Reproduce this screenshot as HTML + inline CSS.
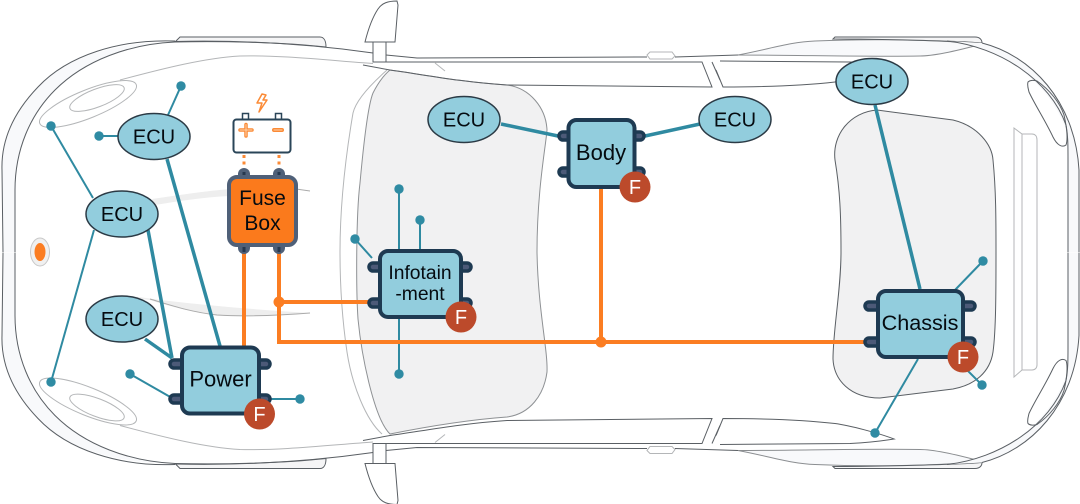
<!DOCTYPE html>
<html>
<head>
<meta charset="utf-8">
<style>
html,body{margin:0;padding:0;background:#fff;}
svg{display:block;}
text{font-family:"Liberation Sans",sans-serif;fill:#050b10;text-anchor:middle;}
.c{fill:none;stroke:#5a5f64;stroke-width:1;}
.l{fill:none;stroke:#b4b6b8;stroke-width:1;}
.t1{stroke:#2f8aa1;stroke-width:2;fill:none;}
.t2{stroke:#2f8aa1;stroke-width:3.5;fill:none;}
.o{stroke:#fb7d22;stroke-width:4;fill:none;}
.e{fill:#92cddd;stroke:#2b3a45;stroke-width:1.5;}
.d{fill:#2f8ba3;}
.m{fill:#92cddd;stroke:#1e3a52;stroke-width:4;}
.tab{fill:#4c5a78;stroke:#1e3a52;stroke-width:3.5;}
.f{fill:#bc4a2b;}
.ft{fill:#fff;font-size:20px;}
</style>
</head>
<body>
<svg width="1080" height="504" viewBox="0 0 1080 504" xmlns="http://www.w3.org/2000/svg">
<defs>
<g id="h">
  <path d="M175 42 C120 42 70 55 40 85 C15 112 1 140 2 170 L3 252.5 L15 252.5 L15 190 C15 150 30 115 55 90 C85 60 130 42 175 42Z" fill="#f8f9fb" stroke="none"/>
  <path class="c" d="M175 41 C120 39 68 55 38 87 C14 112 1 140 2 170 L3 252.5"/>
  <path class="c" d="M175 42 C130 44 85 60 55 90 C30 115 15 150 15 190 L15 252.5"/>
  <path d="M175 42 L180 37 H320 C324 37 326 41 326 47 C280 42 220 41 175 42Z" fill="#f5f5f6" stroke="#5a5f64" stroke-width="1"/>
  <path class="c" d="M175 41.500 C240 40 310 44 373 53"/>
  <path class="l" d="M120 80 C165 68 205 58 240 56 C280 55 325 60 373 63.500"/>
  <ellipse class="l" cx="88" cy="104" rx="52" ry="14" transform="rotate(-22 88 104)"/>
  <ellipse class="l" cx="97" cy="98" rx="29" ry="9" transform="rotate(-21 97 98)"/>
  <path class="c" d="M386 62 L702 62 L712 87 L507 85 C460 82 420 74 390 70 L363 65"/>
  <path class="c" d="M386 55 L417 58 L647 57 M675 57 L738 55"/>
  <path class="l" d="M647 55 L650 52 H672 L675 56 L672 59 H650Z"/>
  <path class="l" d="M435 63 L445 71"/>
  <path class="c" d="M712 62 L720 80"/>
  <path class="c" d="M720 61 L850 62 C870 63 885 65 894 66.500 C880 72 850 80 835 82 C800 86 760 87 723 87 L716 70"/>
  <path d="M738 55 C770 49 790 42 815 41 C860 39 930 39 982 44 C960 50 935 56 920 56 C860 57 800 55 738 55Z" fill="#f8f9fb" stroke="#8b8e91" stroke-width="1"/>
  <path d="M833 39 L835 37 H975 C980 37 982 40 982 43 C960 41 880 39 833 39Z" fill="#f5f5f6" stroke="#5a5f64" stroke-width="1"/>
  <path d="M947 41 C1000 47 1050 80 1068 135 L1068 252.500 L1079 252.500 L1079 170 C1075 100 1030 55 982 43Z" fill="#f8f9fb" stroke="none"/>
  <path class="c" d="M982 43 C1030 55 1075 100 1079 170 L1079 252.500"/>
  <path class="c" d="M947 41 C1000 47 1050 80 1066 125 C1068 135 1068 145 1068 160 L1068 252.500"/>
  <path class="c" d="M1028 82 C1030 80 1034 80 1037 81 C1050 90 1060 103 1064 115 C1067 128 1068 140 1066 145 C1062 148 1057 145 1053 137 C1045 120 1035 105 1029 92 C1028 88 1027 85 1028 82Z"/>
  <path d="M365 42 C368 30 372 18 378 9 C382 3 388 1 397 1 L398 5 L395 42Z" fill="#fff" stroke="#5a5f64" stroke-width="1"/>
  <rect x="373" y="42" width="13" height="20" fill="#fff" stroke="#5a5f64" stroke-width="1"/>
</g>
</defs>

<!-- grey window areas -->
<path d="M390 70 C420 74 460 82 507 85 C530 88 546 108 547 130 C546 145 537 190 537 252 C538 310 548 350 547 372 C544 395 530 414 507 417 C465 420 420 428 390 434 C375 420 362 360 358 319 C356 290 356 215 360 183 C363 150 368 105 373 93 C378 83 384 75 390 70Z" fill="#f1f1f2" stroke="#8e9194" stroke-width="1"/>
<path class="l" d="M387 70 C370 85 356 100 353 113 C345 160 340 210 340 252 C340 290 343 325 347 352 C352 385 366 420 382 434"/>
<path d="M877 110 L953 120 C978 126 992 145 993 160 C996 190 996 220 996 252 C996 290 996 330 993 352 C990 372 975 385 953 389 L880 398 C850 398 834 380 833 359 C833 330 841 290 841 252 C841 215 840 190 835 160 C832 135 850 112 877 110Z" fill="#f1f1f2" stroke="#5a5f64" stroke-width="1"/>

<!-- hood stripes -->
<path d="M152 199 C180 195 205 191 230 189 L230 196 C205 197 180 201 155 205Z" fill="#eeeeee"/>
<path d="M296 189 L310 191" stroke="#aaa" stroke-width="1" fill="none"/>
<path d="M107 295 C125 295 140 297 153 299 C200 305 260 310 310 313 C270 316 240 316 217 315 C190 312 165 305 150 300Z" fill="#eeeeee"/>
<path d="M150 299 C170 305 190 312 217 315 C250 317 285 315 310 313" fill="none" stroke="#aaa" stroke-width="1"/>

<!-- car halves -->
<use href="#h"/>
<use href="#h" transform="translate(0 505.500) scale(1 -1)"/>

<!-- rear strip -->
<path class="l" d="M1014 128 L1022 134 H1032 C1035 134 1037 136 1037 140 V365 C1037 368 1035 370 1032 370 H1022 L1014 377Z M1022 134 V370"/>

<!-- tail light -->
<ellipse cx="40" cy="252" rx="9.500" ry="14" fill="#f0f0f0" stroke="#c8c8c8" stroke-width="1"/>
<ellipse cx="40" cy="252" rx="5.500" ry="9" fill="#fb7d22"/>

<!-- teal connectors -->
<path class="t1" d="M168 115 L181 86"/>
<path class="t1" d="M118 136 L99 136"/>
<path class="t1" d="M51 126 L93 198"/>
<path class="t1" d="M51 382 L94 230"/>
<path class="t2" d="M167 159 L220 346"/>
<path class="t2" d="M148 230 L172 358"/>
<path class="t2" d="M145 339 L172 358"/>
<path class="t1" d="M130 374 L172 398"/>
<path class="t1" d="M270 399 L300 399"/>
<path class="t1" d="M399 189 V250 M420 220 V250 M355 239 L372 258 M399 318 V374"/>
<path class="t2" d="M501 124 L558 136 M645 136 L700 124"/>
<path class="t2" d="M875 105 L920 289"/>
<path class="t1" d="M983 261 L955 290 M982 385 L963 366 M875 433 L918 359"/>
<g class="d">
<circle cx="181" cy="86" r="4.700"/><circle cx="99" cy="136" r="4.700"/><circle cx="51" cy="126" r="4.700"/>
<circle cx="51" cy="382" r="4.700"/><circle cx="130" cy="374" r="4.700"/><circle cx="300" cy="399" r="4.700"/>
<circle cx="399" cy="189" r="4.700"/><circle cx="420" cy="220" r="4.700"/><circle cx="355" cy="239" r="4.700"/>
<circle cx="399" cy="374" r="4.700"/><circle cx="983" cy="261" r="4.700"/><circle cx="982" cy="385" r="4.700"/>
<circle cx="875" cy="433" r="4.700"/>
</g>

<!-- orange connectors -->
<path class="o" d="M244 250 V347"/>
<path class="o" d="M279 250 V342 H866"/>
<path class="o" d="M279 302 H369"/>
<path class="o" d="M601 186 V342"/>
<circle cx="279" cy="302" r="5.500" fill="#fb7d22"/>
<circle cx="601" cy="342" r="5.500" fill="#fb7d22"/>

<!-- ECUs -->
<ellipse class="e" cx="154" cy="136.500" rx="36" ry="23"/><text x="154" y="143.500" font-size="20">ECU</text>
<ellipse class="e" cx="122" cy="214" rx="36" ry="23"/><text x="122" y="221" font-size="20">ECU</text>
<ellipse class="e" cx="122" cy="319" rx="36" ry="23"/><text x="122" y="326" font-size="20">ECU</text>
<ellipse class="e" cx="464" cy="119.500" rx="36" ry="23"/><text x="464" y="126.500" font-size="20">ECU</text>
<ellipse class="e" cx="735" cy="119.500" rx="36" ry="23"/><text x="735" y="126.500" font-size="20">ECU</text>
<ellipse class="e" cx="872" cy="81.500" rx="36" ry="23"/><text x="872" y="88.500" font-size="20">ECU</text>

<!-- Battery -->
<rect x="242.500" y="113.500" width="6" height="6" fill="#fff" stroke="#2a4558" stroke-width="1.500"/>
<rect x="275.500" y="113.500" width="6" height="6" fill="#fff" stroke="#2a4558" stroke-width="1.500"/>
<rect x="233.500" y="119.500" width="57" height="33" rx="3" fill="#fff" stroke="#2a4558" stroke-width="2"/>
<path d="M240 130 H252 M246 124.500 V136" stroke="#fb8a35" stroke-width="3.500" stroke-linecap="round" fill="none"/>
<path d="M240 130 H252 M246 124.500 V136" stroke="#fdd3ad" stroke-width="1" stroke-linecap="round" fill="none"/>
<path d="M274 130 H282" stroke="#fb8a35" stroke-width="4" stroke-linecap="round" fill="none"/>
<path d="M274 130 H282" stroke="#fdd3ad" stroke-width="1" stroke-linecap="round" fill="none"/>
<path d="M262 94 L257 103 H262 L259 112 L267 100 H263 L266 95Z" fill="#fff" stroke="#fb8a35" stroke-width="1.500" stroke-linejoin="round"/>
<path d="M244 155 V167 M279 155 V167" stroke="#fb8a35" stroke-width="3" stroke-dasharray="3 3.500" fill="none"/>

<!-- Fuse Box -->
<g fill="#4f6078">
<rect x="238" y="168" width="12" height="14" rx="6"/><rect x="273" y="168" width="12" height="14" rx="6"/>
<rect x="238" y="240" width="12" height="14" rx="6"/><rect x="273" y="240" width="12" height="14" rx="6"/>
</g>
<rect x="242.500" y="172" width="3" height="6" fill="#26384e"/><rect x="277.500" y="172" width="3" height="6" fill="#26384e"/>
<rect x="242.500" y="246" width="3" height="6" fill="#26384e"/><rect x="277.500" y="246" width="3" height="6" fill="#26384e"/>
<rect x="229" y="177" width="67" height="68" rx="8" fill="#fb7a1c" stroke="#4f6078" stroke-width="4"/>
<text x="262.500" y="205" font-size="21">Fuse</text>
<text x="262.500" y="230" font-size="21">Box</text>

<!-- Power -->
<rect class="tab" x="170" y="360" width="20" height="8" rx="4"/><rect class="tab" x="170" y="395" width="20" height="8" rx="4"/>
<rect class="tab" x="250" y="360" width="20" height="8" rx="4"/><rect class="tab" x="250" y="395" width="20" height="8" rx="4"/>
<rect class="m" x="182" y="347.500" width="77" height="66" rx="8"/>
<text x="220.500" y="386.500" font-size="22">Power</text>
<circle class="f" cx="259.500" cy="414" r="15.500"/><text class="ft" x="259.500" y="421">F</text>

<!-- Body -->
<rect class="tab" x="559" y="132" width="20" height="8" rx="4"/><rect class="tab" x="559" y="168" width="20" height="8" rx="4"/>
<rect class="tab" x="624" y="132" width="20" height="8" rx="4"/><rect class="tab" x="624" y="168" width="20" height="8" rx="4"/>
<rect class="m" x="568.500" y="120" width="66" height="67" rx="8"/>
<text x="601" y="160" font-size="22">Body</text>
<circle class="f" cx="635" cy="187" r="15.500"/><text class="ft" x="635" y="194">F</text>

<!-- Infotainment -->
<rect class="tab" x="369" y="263" width="20" height="8" rx="4"/><rect class="tab" x="369" y="299" width="20" height="8" rx="4"/>
<rect class="tab" x="451" y="263" width="20" height="8" rx="4"/><rect class="tab" x="451" y="299" width="20" height="8" rx="4"/>
<rect class="m" x="380" y="251" width="81" height="66" rx="8"/>
<text x="420" y="279" font-size="19.300">Infotain</text>
<text x="420" y="300" font-size="19.300">-ment</text>
<circle class="f" cx="461" cy="317" r="15.500"/><text class="ft" x="461" y="324">F</text>

<!-- Chassis -->
<rect class="tab" x="865" y="302" width="20" height="8" rx="4"/><rect class="tab" x="865" y="338" width="20" height="8" rx="4"/>
<rect class="tab" x="955" y="302" width="20" height="8" rx="4"/><rect class="tab" x="955" y="338" width="20" height="8" rx="4"/>
<rect class="m" x="878" y="291" width="85" height="66" rx="8"/>
<text x="920" y="330" font-size="21.600">Chassis</text>
<circle class="f" cx="963" cy="357" r="15.500"/><text class="ft" x="963" y="364">F</text>
</svg>
</body>
</html>
